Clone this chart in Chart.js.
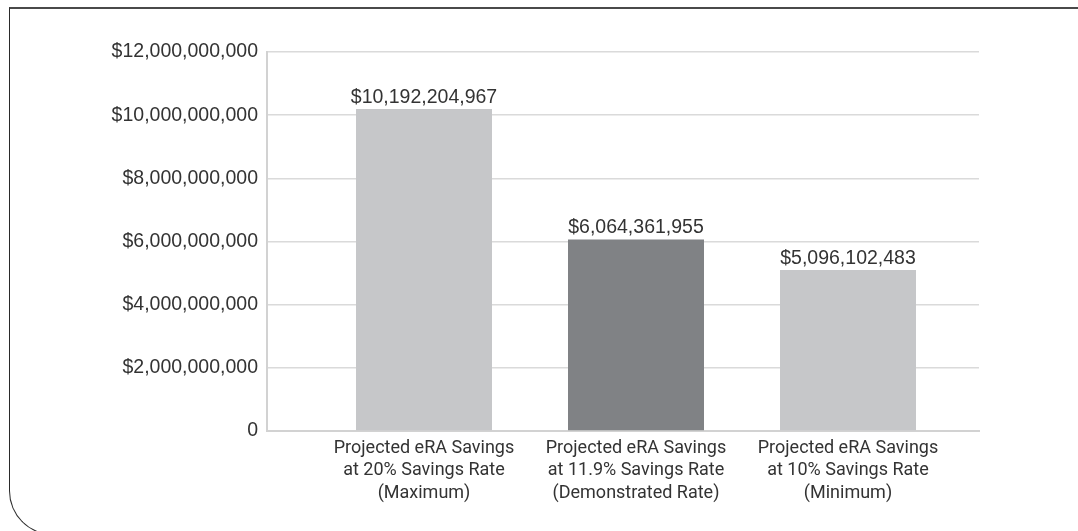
<!DOCTYPE html>
<html>
<head>
<meta charset="utf-8">
<script src="https://cdn.jsdelivr.net/npm/chart.js@4"></script>
<style>
  html, body { margin: 0; padding: 0; background: #fff; overflow: hidden; }
  #frame {
    position: absolute; left: 9px; top: 7px; width: 1200px; height: 525px;
    border-top: 2px solid #4a4a4a; border-left: 1.5px solid #2a2a2a; border-bottom: 1.5px solid #2a2a2a;
    border-bottom-left-radius: 44px;
  }
  #wrap { position: absolute; left: 0; top: 0; width: 1078px; height: 531px; }
</style>
</head>
<body>
<div id="frame"></div>
<div id="wrap"><canvas id="savingsChart"></canvas></div>
<script>
const categories = [
  ['Projected eRA Savings', 'at 20% Savings Rate', '(Maximum)'],
  ['Projected eRA Savings', 'at 11.9% Savings Rate', '(Demonstrated Rate)'],
  ['Projected eRA Savings', 'at 10% Savings Rate', '(Minimum)']
];
const savings = [10192204967, 6064361955, 5096102483];
const barColors = ['#c6c7c9', '#808285', '#c6c7c9'];
const yTicks = [0, 2e9, 4e9, 6e9, 8e9, 10e9, 12e9];

const money = v => v === 0 ? '0' : '$' + v.toLocaleString('en-US');

// value labels above each bar
const barLabels = {
  id: 'barLabels',
  afterDatasetsDraw(chart) {
    const ctx = chart.ctx;
    const meta = chart.getDatasetMeta(0);
    ctx.save();
    ctx.font = '19.5px "Liberation Sans", Arial, sans-serif';
    ctx.fillStyle = '#333';
    ctx.textAlign = 'center';
    ctx.textBaseline = 'alphabetic';
    meta.data.forEach((bar, i) => {
      ctx.fillText(money(savings[i]), bar.x, bar.y - 6);
    });
    ctx.restore();
  }
};

new Chart(document.getElementById('savingsChart'), {
  type: 'bar',
  data: {
    datasets: [{
      data: savings.map((v, i) => ({ x: i, y: v })),
      backgroundColor: barColors,
      borderWidth: 0,
      categoryPercentage: 1,
      barPercentage: 136 / 212
    }]
  },
  options: {
    responsive: true,
    maintainAspectRatio: false,
    animation: false,
    layout: { padding: { left: 0, top: 52, right: 99, bottom: 0 } },
    plugins: { legend: { display: false }, tooltip: { enabled: false } },
    scales: {
      x: {
        type: 'linear',
        offset: false,
        bounds: 'data',
        min: -157 / 212,
        max: -157 / 212 + 712 / 212,
        afterBuildTicks: s => { s.ticks = categories.map((c, i) => ({ value: i })); },
        afterFit: s => { s.height = 100; },
        grid: { display: false, drawTicks: false },
        border: { display: true, color: '#d2d2d2', width: 2 },
        ticks: {
          autoSkip: false,
          maxRotation: 0,
          padding: 6,
          color: '#333',
          font: { family: 'Roboto', size: 18, lineHeight: 1.25 },
          callback: v => categories[v] || ''
        }
      },
      y: {
        min: 0,
        max: 12e9,
        afterBuildTicks: s => { s.ticks = yTicks.map(v => ({ value: v })); },
        afterFit: s => { s.width = 267; },
        grid: { color: '#dadada', lineWidth: 1.5, drawTicks: false },
        border: { display: true, color: '#d2d2d2', width: 2 },
        ticks: {
          padding: 9,
          color: '#333',
          font: { family: '"Liberation Sans", Arial, sans-serif', size: 19.5 },
          callback: v => money(v)
        }
      }
    }
  },
  plugins: [barLabels]
});
</script>
</body>
</html>
